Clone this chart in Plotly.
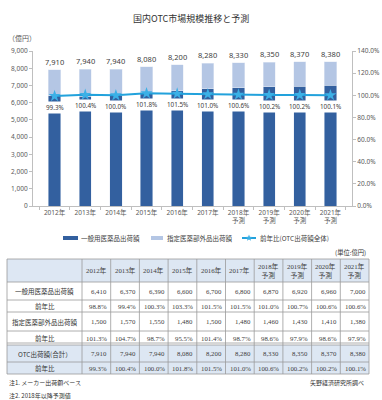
import math
import plotly.graph_objects as go

# ---------------- data ----------------
years = ["2012年", "2013年", "2014年", "2015年", "2016年", "2017年",
         "2018年<br>予測", "2019年<br>予測", "2020年<br>予測", "2021年<br>予測"]
general_otc = [6410, 6370, 6390, 6600, 6700, 6800, 6870, 6920, 6960, 7000]
general_yoy = [98.8, 99.4, 100.3, 103.3, 101.5, 101.5, 101.0, 100.7, 100.6, 100.6]
quasi_drug = [1500, 1570, 1550, 1480, 1500, 1480, 1460, 1430, 1410, 1380]
quasi_yoy = [101.3, 104.7, 98.7, 95.5, 101.4, 98.7, 98.6, 97.9, 98.6, 97.9]
otc_total = [7910, 7940, 7940, 8080, 8200, 8280, 8330, 8350, 8370, 8380]
total_yoy = [99.3, 100.4, 100.0, 101.8, 101.5, 101.0, 100.6, 100.2, 100.2, 100.1]

row_labels = ["一般用医薬品出荷額", "前年比", "指定医薬部外品出荷額", "前年比",
              "OTC出荷額(合計）", "前年比"]

DARK = "#33609f"
LIGHT = "#b4c6e4"
LINE = "#22a2dc"
HEAD_FILL = "#dde7f3"
GRID = "#9a9a9a"
TXT = "#404040"
SANS = "Noto Sans, Noto Sans CJK JP, sans-serif"
SERIF = "Liberation Serif, Noto Sans CJK JP, serif"
JP = "Noto Sans CJK JP, sans-serif"

W, H = 382, 400


def X(px):
    return px / W


def Y(py):
    return 1 - py / H


def note(px, py, text, size, color="#333333", family=JP, xa="center"):
    return dict(x=X(px), y=Y(py), xref="paper", yref="paper", text=text,
                showarrow=False, xanchor=xa, yanchor="middle",
                font=dict(size=size, color=color, family=family))


fig = go.Figure()
fig.add_trace(go.Bar(x=years, y=general_otc, marker_color=DARK, width=0.4,
                     name="一般用医薬品出荷額", showlegend=False))
fig.add_trace(go.Bar(x=years, y=quasi_drug, marker_color=LIGHT, width=0.4,
                     name="指定医薬部外品出荷額", showlegend=False))
fig.add_trace(go.Scatter(x=years, y=total_yoy, yaxis="y2", mode="lines+markers",
                         line=dict(color=LINE, width=2),
                         marker=dict(symbol="star", size=9, color="#3cb0e6"),
                         name="前年比(OTC出荷額全体)", showlegend=False))

annotations = []
shapes = []

# totals above bars
for c, t in zip(years, otc_total):
    annotations.append(dict(x=c, y=t, xref="x", yref="y", text=f"{t:,}",
                            showarrow=False, yshift=8, xanchor="center", yanchor="middle",
                            font=dict(size=7.5, color=TXT, family=SANS)))
# pct labels below line with white background
for c, p in zip(years, total_yoy):
    annotations.append(dict(x=c, y=p, xref="x", yref="y2", text=f"{p:.1f}%",
                            showarrow=False, yshift=-11, xanchor="center", yanchor="middle",
                            bgcolor="white", borderpad=1,
                            font=dict(size=6.3, color=TXT, family=SANS)))

# title and unit
annotations.append(note(191, 18, "国内OTC市場規模推移と予測", 9))
annotations.append(note(6, 38, "（億円）", 7, color="#595959", xa="left"))

# ---------------- legend (custom) ----------------
leg_y = 238
shapes.append(dict(type="line", xref="paper", yref="paper", x0=X(63), x1=X(78),
                   y0=Y(leg_y), y1=Y(leg_y), line=dict(color=DARK, width=4)))
shapes.append(dict(type="line", xref="paper", yref="paper", x0=X(151), x1=X(163),
                   y0=Y(leg_y), y1=Y(leg_y), line=dict(color=LIGHT, width=4)))
shapes.append(dict(type="line", xref="paper", yref="paper", x0=X(242), x1=X(256),
                   y0=Y(leg_y), y1=Y(leg_y), line=dict(color=LINE, width=2)))
cx, cy = 249, leg_y
pts = []
for i in range(10):
    r = 3.5 if i % 2 == 0 else 1.5
    a = -math.pi / 2 + i * math.pi / 5
    pts.append((X(cx + r * math.cos(a)), Y(cy + r * math.sin(a))))
path = "M " + " L ".join(f"{a:.5f},{b:.5f}" for a, b in pts) + " Z"
shapes.append(dict(type="path", xref="paper", yref="paper", path=path,
                   fillcolor="#3cb0e6", line=dict(width=0)))
for tx, txt in [(79, "一般用医薬品出荷額"), (165, "指定医薬部外品出荷額"),
                (258, "前年比(OTC出荷額全体)")]:
    annotations.append(note(tx, leg_y, txt, 6.5, color="#404040", xa="left"))

# ---------------- table ----------------
first_col = (7, 82)
col_w = 28.7
col_edges = [first_col[0], first_col[1]] + [first_col[1] + col_w * (i + 1) for i in range(len(years))]
row_edges = [259, 282, 300, 312, 331, 345, 362, 374]

shapes.append(dict(type="rect", xref="paper", yref="paper", x0=X(col_edges[0]), x1=X(col_edges[-1]),
                   y0=Y(row_edges[0]), y1=Y(row_edges[1]), fillcolor=HEAD_FILL, line=dict(width=0),
                   layer="below"))
shapes.append(dict(type="rect", xref="paper", yref="paper", x0=X(col_edges[0]), x1=X(col_edges[-1]),
                   y0=Y(row_edges[5]), y1=Y(row_edges[7]), fillcolor=HEAD_FILL, line=dict(width=0),
                   layer="below"))
for ry in row_edges + [row_edges[5] - 2]:
    shapes.append(dict(type="line", xref="paper", yref="paper", x0=X(col_edges[0]), x1=X(col_edges[-1]),
                       y0=Y(ry), y1=Y(ry), line=dict(color=GRID, width=0.8)))
for cxe in col_edges:
    shapes.append(dict(type="line", xref="paper", yref="paper", x0=X(cxe), x1=X(cxe),
                       y0=Y(row_edges[0]), y1=Y(row_edges[-1]), line=dict(color=GRID, width=0.8)))

for j, yr in enumerate(years):
    xc = (col_edges[j + 1] + col_edges[j + 2]) / 2
    yc = (row_edges[0] + row_edges[1]) / 2
    annotations.append(note(xc, yc, yr, 6.8, color=TXT, family=SERIF))

rows = [
    [f"{v:,}" for v in general_otc],
    [f"{v:.1f}%" for v in general_yoy],
    [f"{v:,}" for v in quasi_drug],
    [f"{v:.1f}%" for v in quasi_yoy],
    [f"{v:,}" for v in otc_total],
    [f"{v:.1f}%" for v in total_yoy],
]
for i, (lab, vals) in enumerate(zip(row_labels, rows)):
    yc = (row_edges[i + 1] + row_edges[i + 2]) / 2
    annotations.append(note((col_edges[0] + col_edges[1]) / 2, yc, lab, 6.5))
    for j, v in enumerate(vals):
        annotations.append(note(col_edges[j + 2] - 1.5, yc, v, 6.8, color=TXT,
                                family=SERIF, xa="right"))

annotations.append(note(368, 253, "(単位:億円)", 6.3, xa="right"))
annotations.append(note(7, 382, "注1. メーカー出荷額ベース", 6, xa="left"))
annotations.append(note(7, 395, "注2. 2018年以降予測値", 6, xa="left"))
annotations.append(note(366, 382, "矢野経済研究所調べ", 6, xa="right"))

axis_common = dict(showline=True, linecolor="#bfbfbf", linewidth=1, ticks="outside",
                   ticklen=3, tickcolor="#bfbfbf", showgrid=False, zeroline=False,
                   automargin=False,
                   tickfont=dict(size=6.5, color="#595959", family=SANS))

fig.update_layout(
    width=W, height=H, margin=dict(l=0, r=0, t=0, b=0, pad=0, autoexpand=False),
    paper_bgcolor="white", plot_bgcolor="white",
    barmode="stack", bargap=0.6,
    font=dict(family=SANS, color=TXT),
    xaxis=dict(domain=[X(33), X(352)], type="category", tickson="boundaries",
               tickangle=0, **axis_common),
    yaxis=dict(domain=[Y(206), Y(51)], range=[0, 9000], dtick=1000, tickformat=",d",
               **axis_common),
    yaxis2=dict(overlaying="y", side="right", range=[0, 140], dtick=20,
                tickformat=".1f", ticksuffix="%", **axis_common),
    annotations=annotations, shapes=shapes,
)

fig.write_html("out.html", config={"displayModeBar": False},
               post_script="document.body.style.margin='0';document.body.style.padding='0';")
